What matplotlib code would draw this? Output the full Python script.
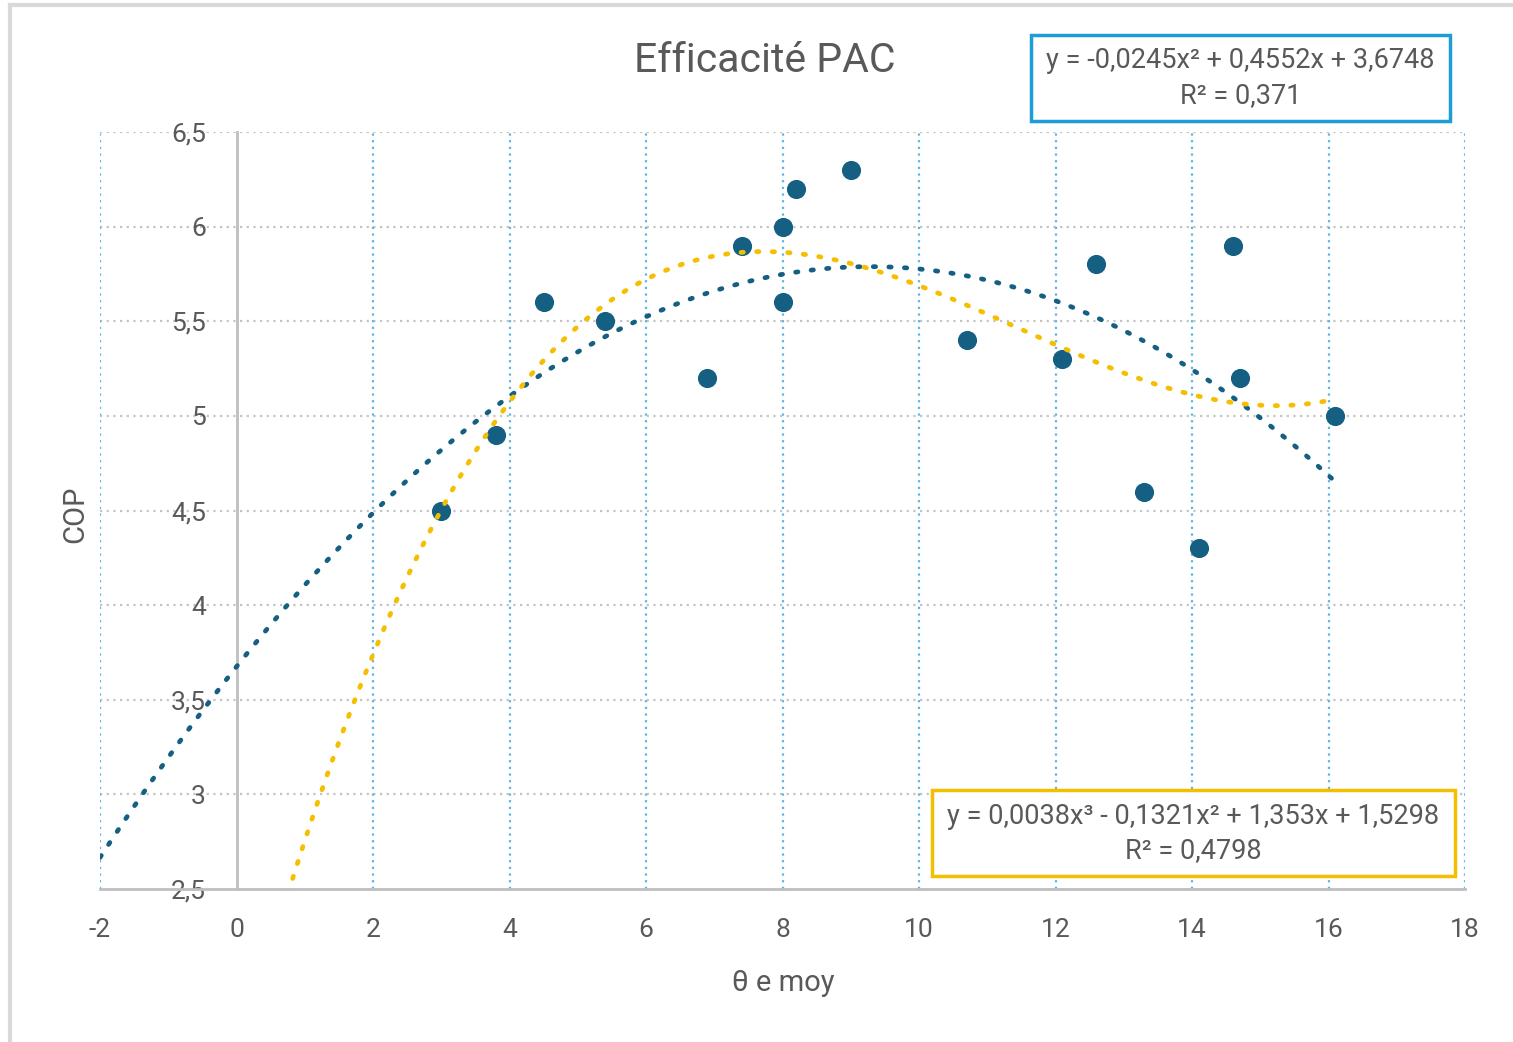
import numpy as np
from matplotlib import pyplot as plt
from matplotlib.lines import Line2D

plt.rcParams['font.family'] = ['Roboto', 'DejaVu Sans']

# measured points: outdoor mean temperature vs COP
theta = [3.0, 3.8, 4.5, 5.4, 6.9, 7.4, 8.0, 8.0, 8.2, 9.0,
         10.7, 12.1, 12.6, 13.3, 14.1, 14.6, 14.7, 16.1]
cop = [4.5, 4.9, 5.6, 5.5, 5.2, 5.9, 6.0, 5.6, 6.2, 6.3,
       5.4, 5.3, 5.8, 4.6, 4.3, 5.9, 5.2, 5.0]

# equations as printed on the chart
eq2 = ["y = -0,0245x² + 0,4552x + 3,6748", "R² = 0,371"]
eq3 = ["y = 0,0038x³ - 0,1321x² + 1,353x + 1,5298", "R² = 0,4798"]

xticks = [-2, 0, 2, 4, 6, 8, 10, 12, 14, 16, 18]
yticks = [2.5, 3, 3.5, 4, 4.5, 5, 5.5, 6, 6.5]
ylabels = ["2,5", "3", "3,5", "4", "4,5", "5", "5,5", "6", "6,5"]

dark = "#156082"
yellow = "#F5BE00"
grey_txt = "#595959"

# polynomial trendlines fitted to the points (like excel does)
poly2 = np.polyfit(theta, cop, 2)
poly3 = np.polyfit(theta, cop, 3)

fig = plt.figure(figsize=(15.13, 10.42), dpi=100)
ax = fig.add_axes([100/1513, 1-889/1042, 1365/1513, 757/1042])

ax.set_xlim(-2, 18)
ax.set_ylim(2.5, 6.5)

# grid
for yv in yticks[1:]:
    ax.axhline(yv, color="#C4C4C4", lw=1.6, ls=(0, (1, 2)), zorder=1)
for xv in xticks:
    if xv == 0:
        continue
    ax.axvline(xv, color="#5AB6E2", lw=1.6, ls=(0, (1, 2)), zorder=1)

ax.scatter(theta, cop, s=190, color=dark, zorder=3, linewidths=0)

x2 = np.linspace(-2, max(theta), 300)
ax.plot(x2, np.polyval(poly2, x2), color=dark, lw=3.4, ls=(0, (0.5, 2.8)),
        dash_capstyle='round', zorder=4)
x3 = np.linspace(0, max(theta), 300)
ax.plot(x3, np.polyval(poly3, x3), color=yellow, lw=3.4, ls=(0, (0.5, 2.8)),
        dash_capstyle='round', zorder=4)

for s in ['top', 'right']:
    ax.spines[s].set_visible(False)
ax.spines['left'].set_position(('data', 0))
ax.spines['left'].set_color("#BFBFBF")
ax.spines['left'].set_linewidth(2)
ax.spines['bottom'].set_color("#BFBFBF")
ax.spines['bottom'].set_linewidth(2)
ax.spines['left'].set_zorder(2)

ax.set_xticks(xticks)
ax.set_xticklabels([str(v) for v in xticks])
ax.set_yticks(yticks)
ax.set_yticklabels(ylabels)
ax.tick_params(axis='both', length=0, labelsize=19, labelcolor=grey_txt)
ax.tick_params(axis='x', pad=21)
ax.tick_params(axis='y', pad=22)

fig.text(783/1513, 1-983/1042, "θ e moy", ha='center', va='center',
         fontsize=21, color=grey_txt)
fig.text(75/1513, 1-514/1042, "COP", ha='center', va='center',
         rotation=90, fontsize=21, color=grey_txt)
fig.text(765/1513, 1-60/1042, "Efficacité PAC", ha='center', va='center',
         fontsize=29.5, color=grey_txt)

# equation boxes
def eq_box(x0, y0, x1, y1, color, lines):
    rect = plt.Rectangle((x0/1513, 1-y1/1042), (x1-x0)/1513, (y1-y0)/1042,
                         transform=fig.transFigure, fill=True, facecolor="white",
                         edgecolor=color, lw=2.5, zorder=5)
    fig.add_artist(rect)
    cx = (x0+x1)/2/1513
    fig.text(cx, 1-(y0+26)/1042, lines[0], ha='center', va='center',
             fontsize=19.5, color=grey_txt, zorder=6)
    fig.text(cx, 1-(y0+61)/1042, lines[1], ha='center', va='center',
             fontsize=19.5, color=grey_txt, zorder=6)

eq_box(1031, 35, 1450, 121, "#1C9DD8", eq2)
eq_box(932, 790, 1455, 876, "#F5BE00", eq3)

# outer frame (top and left edges visible)
fig.add_artist(Line2D([10/1513, 1], [1-5/1042, 1-5/1042], transform=fig.transFigure,
                      color="#D9D9D9", lw=3))
fig.add_artist(Line2D([10/1513, 10/1513], [0, 1-5/1042], transform=fig.transFigure,
                      color="#D9D9D9", lw=3))

plt.savefig("out.png", dpi=100)
